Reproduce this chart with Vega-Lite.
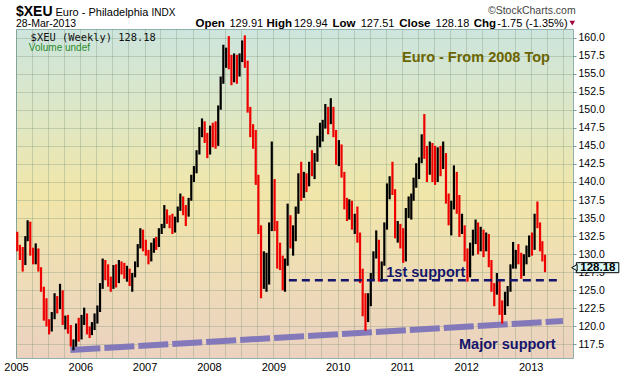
{
  "$schema": "https://vega.github.io/schema/vega-lite/v6.json",
  "width": 557,
  "height": 329,
  "autosize": {"type": "none"},
  "padding": {"left": 16, "top": 29, "right": 47, "bottom": 18},
  "background": "white",
  "view": {
    "stroke": "#8fb0ad",
    "strokeWidth": 1,
    "fill": {
      "gradient": "linear", "x1": 0, "y1": 0, "x2": 0, "y2": 1,
      "stops": [
        {"offset": 0, "color": "#cde5dd"},
        {"offset": 0.25, "color": "#dde7c6"},
        {"offset": 0.5, "color": "#f1e6a9"},
        {"offset": 0.78, "color": "#eedbb8"},
        {"offset": 1, "color": "#ebd2c0"}
      ]
    }
  },
  "config": {
    "font": "Liberation Sans",
    "axisX": {
      "title": null, "grid": true, "gridColor": "#6f8a70", "gridOpacity": 0.3,
      "domain": false, "ticks": false,
      "labelFont": "Liberation Sans", "labelFontSize": 11, "labelColor": "#000000",
      "labelPadding": 3, "labelFlush": false, "labelOverlap": false
    },
    "axisY": {
      "title": null, "grid": true, "gridColor": "#6f8a70", "gridOpacity": 0.3,
      "domain": false, "tickSize": 3, "tickColor": "#7a9a9a",
      "labelFont": "Liberation Sans", "labelFontSize": 10.5, "labelColor": "#000000",
      "labelPadding": 2, "labelOverlap": false, "labelFlush": false
    }
  },
  "layer": [
    {
      "data": {"values": [{}]},
      "mark": {"type": "rule", "strokeWidth": 6, "color": "#8379ba", "strokeDash": [30, 4]},
      "encoding": {
        "x": {"datum": {"year": 2005, "month": 11, "date": 6}, "type": "temporal"},
        "x2": {"datum": {"year": 2013, "month": 7, "date": 3}},
        "y": {"datum": 116.75, "type": "quantitative"},
        "y2": {"datum": 120.75}
      }
    },
    {
      "data": {"values": [
{"d":"2005-01-08","o":132.9,"h":133.1,"l":130.4,"c":130.8},
{"d":"2005-01-23","o":130.8,"h":131.3,"l":129.2,"c":130.5},
{"d":"2005-02-08","o":130.5,"h":131.0,"l":127.6,"c":128.8},
{"d":"2005-02-23","o":128.8,"h":132.5,"l":128.5,"c":132.2},
{"d":"2005-03-08","o":132.2,"h":134.7,"l":131.8,"c":134.0},
{"d":"2005-03-23","o":134.0,"h":134.5,"l":129.8,"c":130.0},
{"d":"2005-04-08","o":130.0,"h":130.9,"l":128.6,"c":129.1},
{"d":"2005-04-23","o":129.1,"h":131.5,"l":128.6,"c":130.5},
{"d":"2005-05-08","o":130.5,"h":130.8,"l":127.6,"c":127.9},
{"d":"2005-05-23","o":127.9,"h":128.2,"l":124.8,"c":125.2},
{"d":"2005-06-08","o":125.2,"h":125.5,"l":120.8,"c":122.5},
{"d":"2005-06-23","o":122.5,"h":123.9,"l":120.0,"c":120.6},
{"d":"2005-07-08","o":120.6,"h":121.0,"l":118.9,"c":119.6},
{"d":"2005-07-23","o":119.6,"h":122.0,"l":119.3,"c":121.6},
{"d":"2005-08-08","o":121.6,"h":124.6,"l":121.0,"c":123.9},
{"d":"2005-08-23","o":123.9,"h":124.2,"l":121.8,"c":122.6},
{"d":"2005-09-08","o":122.6,"h":125.9,"l":122.4,"c":124.8},
{"d":"2005-09-23","o":124.8,"h":125.0,"l":120.2,"c":120.6},
{"d":"2005-10-08","o":120.6,"h":121.5,"l":119.6,"c":120.8},
{"d":"2005-10-23","o":120.8,"h":121.6,"l":119.0,"c":119.8},
{"d":"2005-11-08","o":119.8,"h":120.2,"l":117.2,"c":117.6},
{"d":"2005-11-23","o":117.6,"h":118.2,"l":116.7,"c":117.9},
{"d":"2005-12-08","o":117.9,"h":120.4,"l":117.2,"c":119.6},
{"d":"2005-12-23","o":119.6,"h":121.2,"l":117.9,"c":118.4},
{"d":"2006-01-08","o":118.4,"h":121.6,"l":118.2,"c":121.2},
{"d":"2006-01-23","o":121.2,"h":122.6,"l":120.2,"c":121.6},
{"d":"2006-02-08","o":121.6,"h":121.8,"l":118.9,"c":119.3},
{"d":"2006-02-23","o":119.3,"h":120.0,"l":118.4,"c":119.0},
{"d":"2006-03-08","o":119.0,"h":120.6,"l":118.8,"c":120.2},
{"d":"2006-03-23","o":120.2,"h":121.8,"l":119.5,"c":120.9},
{"d":"2006-04-08","o":120.9,"h":122.9,"l":120.4,"c":122.5},
{"d":"2006-04-23","o":122.5,"h":126.0,"l":122.0,"c":125.6},
{"d":"2006-05-08","o":125.6,"h":129.4,"l":125.2,"c":128.8},
{"d":"2006-05-23","o":128.8,"h":129.2,"l":126.4,"c":127.6},
{"d":"2006-06-08","o":127.6,"h":128.6,"l":125.5,"c":126.2},
{"d":"2006-06-23","o":126.2,"h":126.9,"l":124.8,"c":125.4},
{"d":"2006-07-08","o":125.4,"h":128.5,"l":125.2,"c":128.0},
{"d":"2006-07-23","o":128.0,"h":128.6,"l":125.4,"c":126.2},
{"d":"2006-08-08","o":126.2,"h":129.2,"l":126.0,"c":128.6},
{"d":"2006-08-23","o":128.6,"h":129.0,"l":127.2,"c":127.8},
{"d":"2006-09-08","o":127.8,"h":128.8,"l":126.6,"c":127.0},
{"d":"2006-09-23","o":127.0,"h":128.4,"l":126.2,"c":127.8},
{"d":"2006-10-08","o":127.8,"h":128.0,"l":125.6,"c":125.9},
{"d":"2006-10-23","o":125.9,"h":127.4,"l":124.8,"c":127.1},
{"d":"2006-11-08","o":127.1,"h":129.0,"l":126.8,"c":128.4},
{"d":"2006-11-23","o":128.4,"h":131.4,"l":128.2,"c":131.0},
{"d":"2006-12-08","o":131.0,"h":133.6,"l":130.8,"c":133.0},
{"d":"2006-12-23","o":133.0,"h":133.4,"l":130.4,"c":131.2},
{"d":"2007-01-08","o":131.2,"h":132.0,"l":129.8,"c":130.0},
{"d":"2007-01-23","o":130.0,"h":130.6,"l":128.6,"c":129.4},
{"d":"2007-02-08","o":129.4,"h":131.6,"l":129.0,"c":130.6},
{"d":"2007-02-23","o":130.6,"h":132.2,"l":130.2,"c":131.8},
{"d":"2007-03-08","o":131.8,"h":132.4,"l":130.6,"c":131.2},
{"d":"2007-03-23","o":131.2,"h":133.6,"l":131.0,"c":133.4},
{"d":"2007-04-08","o":133.4,"h":134.2,"l":132.8,"c":133.9},
{"d":"2007-04-23","o":133.9,"h":136.8,"l":133.6,"c":136.0},
{"d":"2007-05-08","o":136.0,"h":136.2,"l":134.2,"c":135.0},
{"d":"2007-05-23","o":135.0,"h":135.4,"l":133.6,"c":134.2},
{"d":"2007-06-08","o":134.2,"h":135.6,"l":132.8,"c":133.4},
{"d":"2007-06-23","o":133.4,"h":135.2,"l":133.0,"c":134.9},
{"d":"2007-07-08","o":134.9,"h":136.6,"l":134.4,"c":136.4},
{"d":"2007-07-23","o":136.4,"h":138.4,"l":136.0,"c":137.8},
{"d":"2007-08-08","o":137.8,"h":138.0,"l":135.4,"c":136.2},
{"d":"2007-08-23","o":136.2,"h":136.8,"l":133.9,"c":135.4},
{"d":"2007-09-08","o":135.4,"h":137.8,"l":135.2,"c":137.6},
{"d":"2007-09-23","o":137.6,"h":141.0,"l":137.4,"c":140.8},
{"d":"2007-10-08","o":140.8,"h":142.2,"l":140.0,"c":141.6},
{"d":"2007-10-23","o":141.6,"h":144.4,"l":141.2,"c":144.0},
{"d":"2007-11-08","o":144.0,"h":147.6,"l":143.8,"c":146.6},
{"d":"2007-11-23","o":146.6,"h":148.8,"l":146.2,"c":148.0},
{"d":"2007-12-08","o":148.0,"h":148.4,"l":145.4,"c":146.2},
{"d":"2007-12-23","o":146.2,"h":146.8,"l":143.3,"c":144.0},
{"d":"2008-01-08","o":144.0,"h":147.8,"l":143.8,"c":147.4},
{"d":"2008-01-23","o":147.4,"h":148.2,"l":144.8,"c":146.6},
{"d":"2008-02-08","o":146.6,"h":148.4,"l":144.6,"c":145.2},
{"d":"2008-02-23","o":145.2,"h":150.6,"l":145.0,"c":150.2},
{"d":"2008-03-08","o":150.2,"h":154.6,"l":150.0,"c":154.0},
{"d":"2008-03-23","o":154.0,"h":159.0,"l":153.6,"c":156.4},
{"d":"2008-04-08","o":156.4,"h":158.6,"l":155.8,"c":158.0},
{"d":"2008-04-23","o":158.0,"h":160.2,"l":155.6,"c":156.0},
{"d":"2008-05-08","o":156.0,"h":157.6,"l":153.4,"c":154.2},
{"d":"2008-05-23","o":154.2,"h":157.8,"l":153.8,"c":157.0},
{"d":"2008-06-08","o":157.0,"h":157.6,"l":153.6,"c":155.0},
{"d":"2008-06-23","o":155.0,"h":157.8,"l":154.6,"c":157.6},
{"d":"2008-07-08","o":157.6,"h":159.6,"l":156.6,"c":159.0},
{"d":"2008-07-23","o":159.0,"h":160.3,"l":155.8,"c":156.4},
{"d":"2008-08-08","o":156.4,"h":156.8,"l":149.6,"c":150.0},
{"d":"2008-08-23","o":150.0,"h":150.4,"l":146.2,"c":147.2},
{"d":"2008-09-08","o":147.2,"h":148.0,"l":144.6,"c":145.2},
{"d":"2008-09-23","o":145.2,"h":147.2,"l":139.6,"c":140.6},
{"d":"2008-10-08","o":140.6,"h":141.0,"l":132.8,"c":133.6},
{"d":"2008-10-23","o":133.6,"h":134.0,"l":123.9,"c":127.2},
{"d":"2008-11-08","o":127.2,"h":130.4,"l":125.2,"c":127.6},
{"d":"2008-11-23","o":127.6,"h":130.2,"l":124.8,"c":129.4},
{"d":"2008-12-08","o":129.4,"h":134.4,"l":125.8,"c":133.6},
{"d":"2008-12-23","o":133.6,"h":145.6,"l":133.2,"c":139.8},
{"d":"2009-01-08","o":139.8,"h":140.4,"l":133.2,"c":134.0},
{"d":"2009-01-23","o":134.0,"h":134.6,"l":128.0,"c":129.6},
{"d":"2009-02-08","o":129.6,"h":131.6,"l":127.8,"c":128.6},
{"d":"2009-02-23","o":128.6,"h":129.8,"l":125.0,"c":126.6},
{"d":"2009-03-08","o":126.6,"h":129.4,"l":124.8,"c":128.8},
{"d":"2009-03-23","o":128.8,"h":137.0,"l":128.4,"c":134.6},
{"d":"2009-04-08","o":134.6,"h":135.4,"l":130.8,"c":132.2},
{"d":"2009-04-23","o":132.2,"h":134.0,"l":129.8,"c":133.2},
{"d":"2009-05-08","o":133.2,"h":136.6,"l":131.8,"c":136.2},
{"d":"2009-05-23","o":136.2,"h":141.2,"l":135.6,"c":140.6},
{"d":"2009-06-08","o":140.6,"h":142.8,"l":137.4,"c":139.4},
{"d":"2009-06-23","o":139.4,"h":141.4,"l":137.8,"c":140.6},
{"d":"2009-07-08","o":140.6,"h":141.2,"l":138.6,"c":139.8},
{"d":"2009-07-23","o":139.8,"h":142.8,"l":139.4,"c":142.2},
{"d":"2009-08-08","o":142.2,"h":144.4,"l":140.8,"c":141.6},
{"d":"2009-08-23","o":141.6,"h":144.0,"l":140.4,"c":143.4},
{"d":"2009-09-08","o":143.4,"h":146.4,"l":142.8,"c":146.0},
{"d":"2009-09-23","o":146.0,"h":148.2,"l":144.8,"c":146.4},
{"d":"2009-10-08","o":146.4,"h":148.6,"l":145.6,"c":148.0},
{"d":"2009-10-23","o":148.0,"h":150.8,"l":147.4,"c":149.8},
{"d":"2009-11-08","o":149.8,"h":150.4,"l":146.6,"c":148.4},
{"d":"2009-11-23","o":148.4,"h":151.6,"l":148.0,"c":150.0},
{"d":"2009-12-08","o":150.0,"h":150.4,"l":146.2,"c":146.8},
{"d":"2009-12-23","o":146.8,"h":147.2,"l":142.4,"c":143.2},
{"d":"2010-01-08","o":143.2,"h":145.8,"l":142.2,"c":144.6},
{"d":"2010-01-23","o":144.6,"h":145.2,"l":140.6,"c":141.0},
{"d":"2010-02-08","o":141.0,"h":141.4,"l":136.2,"c":136.6},
{"d":"2010-02-23","o":136.6,"h":137.8,"l":134.6,"c":135.6},
{"d":"2010-03-08","o":135.6,"h":137.6,"l":134.8,"c":136.4},
{"d":"2010-03-23","o":136.4,"h":137.4,"l":133.4,"c":134.4},
{"d":"2010-04-08","o":134.4,"h":135.6,"l":132.8,"c":135.2},
{"d":"2010-04-23","o":135.2,"h":136.6,"l":131.6,"c":132.2},
{"d":"2010-05-08","o":132.2,"h":133.0,"l":126.0,"c":127.6},
{"d":"2010-05-23","o":127.6,"h":128.0,"l":121.4,"c":123.8},
{"d":"2010-06-08","o":123.8,"h":124.6,"l":119.4,"c":121.8},
{"d":"2010-06-23","o":121.8,"h":124.6,"l":120.6,"c":123.8},
{"d":"2010-07-08","o":123.8,"h":127.4,"l":122.8,"c":126.8},
{"d":"2010-07-23","o":126.8,"h":130.4,"l":126.4,"c":129.8},
{"d":"2010-08-08","o":129.8,"h":133.3,"l":129.4,"c":131.8},
{"d":"2010-08-23","o":131.8,"h":132.0,"l":126.2,"c":126.8},
{"d":"2010-09-08","o":126.8,"h":129.0,"l":126.2,"c":128.6},
{"d":"2010-09-23","o":128.6,"h":134.4,"l":128.4,"c":133.8},
{"d":"2010-10-08","o":133.8,"h":139.8,"l":133.4,"c":139.4},
{"d":"2010-10-23","o":139.4,"h":140.8,"l":137.6,"c":139.6},
{"d":"2010-11-08","o":139.6,"h":142.8,"l":138.2,"c":138.6},
{"d":"2010-11-23","o":138.6,"h":139.0,"l":132.2,"c":132.8},
{"d":"2010-12-08","o":132.8,"h":134.6,"l":131.6,"c":133.8},
{"d":"2010-12-23","o":133.8,"h":134.2,"l":130.8,"c":133.4},
{"d":"2011-01-08","o":133.4,"h":133.6,"l":128.8,"c":129.2},
{"d":"2011-01-23","o":129.2,"h":136.4,"l":129.0,"c":135.8},
{"d":"2011-02-08","o":135.8,"h":138.0,"l":135.0,"c":136.4},
{"d":"2011-02-23","o":136.4,"h":138.4,"l":134.8,"c":137.8},
{"d":"2011-03-08","o":137.8,"h":140.6,"l":137.4,"c":139.8},
{"d":"2011-03-23","o":139.8,"h":142.6,"l":139.2,"c":141.4},
{"d":"2011-04-08","o":141.4,"h":143.4,"l":140.4,"c":143.0},
{"d":"2011-04-23","o":143.0,"h":146.6,"l":142.6,"c":146.0},
{"d":"2011-05-08","o":146.0,"h":149.4,"l":143.2,"c":143.8},
{"d":"2011-05-23","o":143.8,"h":145.0,"l":140.0,"c":141.4},
{"d":"2011-06-08","o":141.4,"h":145.6,"l":141.0,"c":144.2},
{"d":"2011-06-23","o":144.2,"h":145.4,"l":140.0,"c":142.6},
{"d":"2011-07-08","o":142.6,"h":145.0,"l":139.6,"c":140.2},
{"d":"2011-07-23","o":140.2,"h":144.8,"l":140.0,"c":144.0},
{"d":"2011-08-08","o":144.0,"h":145.0,"l":140.8,"c":142.4},
{"d":"2011-08-23","o":142.4,"h":145.6,"l":141.8,"c":143.6},
{"d":"2011-09-08","o":143.6,"h":144.0,"l":137.0,"c":137.6},
{"d":"2011-09-23","o":137.6,"h":138.4,"l":134.0,"c":135.0},
{"d":"2011-10-08","o":135.0,"h":137.4,"l":132.6,"c":136.6},
{"d":"2011-10-23","o":136.6,"h":142.3,"l":136.2,"c":141.0},
{"d":"2011-11-08","o":141.0,"h":141.4,"l":135.6,"c":137.6},
{"d":"2011-11-23","o":137.6,"h":138.2,"l":132.4,"c":133.2},
{"d":"2011-12-08","o":133.2,"h":135.6,"l":132.8,"c":133.8},
{"d":"2011-12-23","o":133.8,"h":134.0,"l":129.0,"c":130.4},
{"d":"2012-01-08","o":130.4,"h":130.8,"l":126.2,"c":127.2},
{"d":"2012-01-23","o":127.2,"h":131.6,"l":126.8,"c":130.8},
{"d":"2012-02-08","o":130.8,"h":133.4,"l":129.8,"c":132.6},
{"d":"2012-02-23","o":132.6,"h":134.8,"l":131.4,"c":134.0},
{"d":"2012-03-08","o":134.0,"h":134.4,"l":130.0,"c":131.2},
{"d":"2012-03-23","o":131.2,"h":133.8,"l":130.4,"c":133.2},
{"d":"2012-04-08","o":133.2,"h":133.4,"l":129.6,"c":130.8},
{"d":"2012-04-23","o":130.8,"h":133.0,"l":130.4,"c":132.4},
{"d":"2012-05-08","o":132.4,"h":132.8,"l":128.2,"c":128.8},
{"d":"2012-05-23","o":128.8,"h":129.2,"l":124.8,"c":125.4},
{"d":"2012-06-08","o":125.4,"h":126.0,"l":122.8,"c":125.0},
{"d":"2012-06-23","o":125.0,"h":127.4,"l":124.4,"c":125.6},
{"d":"2012-07-08","o":125.6,"h":126.4,"l":121.6,"c":122.6},
{"d":"2012-07-23","o":122.6,"h":123.6,"l":120.4,"c":121.8},
{"d":"2012-08-08","o":121.8,"h":124.8,"l":121.6,"c":123.6},
{"d":"2012-08-23","o":123.6,"h":125.6,"l":122.8,"c":125.0},
{"d":"2012-09-08","o":125.0,"h":128.6,"l":124.8,"c":128.2},
{"d":"2012-09-23","o":128.2,"h":131.7,"l":128.0,"c":129.2},
{"d":"2012-10-08","o":129.2,"h":130.6,"l":128.0,"c":129.6},
{"d":"2012-10-23","o":129.6,"h":131.4,"l":128.6,"c":129.4},
{"d":"2012-11-08","o":129.4,"h":130.2,"l":126.6,"c":127.4},
{"d":"2012-11-23","o":127.4,"h":130.0,"l":127.0,"c":129.6},
{"d":"2012-12-08","o":129.6,"h":131.2,"l":128.6,"c":129.8},
{"d":"2012-12-23","o":129.8,"h":132.6,"l":129.6,"c":131.8},
{"d":"2013-01-08","o":131.8,"h":133.0,"l":129.8,"c":130.8},
{"d":"2013-01-23","o":130.8,"h":135.6,"l":130.6,"c":135.0},
{"d":"2013-02-08","o":135.0,"h":137.3,"l":133.6,"c":134.0},
{"d":"2013-02-23","o":134.0,"h":134.4,"l":130.4,"c":131.6},
{"d":"2013-03-08","o":131.6,"h":131.8,"l":129.0,"c":130.0},
{"d":"2013-03-23","o":129.91,"h":129.94,"l":127.51,"c":128.18}
      ]},
      "mark": {"type": "rule", "strokeWidth": 2.2},
      "encoding": {
        "x": {
          "field": "d", "type": "temporal",
          "scale": {"domain": [{"year": 2005, "month": 1, "date": 1}, {"year": 2013, "month": 8, "date": 29}]},
          "axis": {
            "orient": "bottom",
            "tickCount": {"interval": "month", "step": 3},
            "labelExpr": "month(datum.value) == 0 ? timeFormat(datum.value, '%Y') : ''"
          }
        },
        "y": {
          "field": "l", "type": "quantitative",
          "scale": {"domain": [115.63, 161.18], "nice": false, "zero": false},
          "axis": {
            "orient": "right",
            "tickCount": 40,
            "values": [117.5, 120, 122.5, 125, 127.5, 130, 132.5, 135, 137.5, 140, 142.5, 145, 147.5, 150, 152.5, 155, 157.5, 160],
            "format": ".1f"
          }
        },
        "y2": {"field": "h"},
        "color": {"condition": {"test": "datum.c < datum.o", "value": "#ee0000"}, "value": "#000000"}
      }
    },
    {
      "data": {"values": [{}]},
      "mark": {"type": "rule", "strokeWidth": 2.5, "color": "#15156b", "strokeDash": [8, 5]},
      "encoding": {
        "x": {"datum": {"year": 2009, "month": 3, "date": 30}, "type": "temporal"},
        "x2": {"datum": {"year": 2013, "month": 6, "date": 21}},
        "y": {"datum": 126.4, "type": "quantitative"}
      }
    },
    {
      "data": {"values": [{"t": "Euro - From 2008 Top"}]},
      "mark": {"type": "text", "align": "left", "baseline": "alphabetic", "fontSize": 14.5, "fontWeight": "bold", "color": "#6b6400", "font": "Liberation Sans"},
      "encoding": {
        "x": {"datum": {"year": 2011, "month": 1, "date": 1}, "type": "temporal"},
        "y": {"datum": 156.61, "type": "quantitative"},
        "text": {"field": "t"}
      }
    },
    {
      "data": {"values": [{"t": "1st support"}]},
      "mark": {"type": "text", "align": "left", "baseline": "alphabetic", "fontSize": 14.5, "fontWeight": "bold", "color": "#15156b", "font": "Liberation Sans"},
      "encoding": {
        "x": {"datum": {"year": 2010, "month": 10, "date": 4}, "type": "temporal"},
        "y": {"datum": 126.85, "type": "quantitative"},
        "text": {"field": "t"}
      }
    },
    {
      "data": {"values": [{"t": "Major support"}]},
      "mark": {"type": "text", "align": "left", "baseline": "alphabetic", "fontSize": 14.5, "fontWeight": "bold", "color": "#15156b", "font": "Liberation Sans"},
      "encoding": {
        "x": {"datum": {"year": 2011, "month": 11, "date": 21}, "type": "temporal"},
        "y": {"datum": 116.81, "type": "quantitative"},
        "text": {"field": "t"}
      }
    },
    {
      "data": {"values": [{"t": "$XEU (Weekly) 128.18"}]},
      "mark": {"type": "text", "align": "left", "baseline": "alphabetic", "fontSize": 10.4, "color": "#111111", "font": "DejaVu Sans Mono"},
      "encoding": {
        "x": {"datum": {"year": 2005, "month": 3, "date": 25}, "type": "temporal"},
        "y": {"datum": 159.52, "type": "quantitative"},
        "text": {"field": "t"}
      }
    },
    {
      "data": {"values": [{"t": "Volume undef"}]},
      "mark": {"type": "text", "align": "left", "baseline": "alphabetic", "fontSize": 10, "color": "#2a8a2a", "font": "Liberation Sans"},
      "encoding": {
        "x": {"datum": {"year": 2005, "month": 3, "date": 15}, "type": "temporal"},
        "y": {"datum": 158.2, "type": "quantitative"},
        "text": {"field": "t"}
      }
    },
    {
      "data": {"values": [{"t": "$XEU"}]},
      "mark": {"type": "text", "align": "left", "baseline": "alphabetic", "fontSize": 14, "fontWeight": "bold", "color": "#000000", "font": "Liberation Sans"},
      "encoding": {
        "x": {"datum": {"year": 2005, "month": 1, "date": 1}, "type": "temporal"},
        "y": {"datum": 162.95, "type": "quantitative"},
        "text": {"field": "t"}
      }
    },
    {
      "data": {"values": [{"t": "Euro - Philadelphia"}]},
      "mark": {"type": "text", "align": "left", "baseline": "alphabetic", "fontSize": 11, "color": "#000000", "font": "Liberation Sans"},
      "encoding": {
        "x": {"datum": {"year": 2005, "month": 8, "date": 13}, "type": "temporal"},
        "y": {"datum": 162.95, "type": "quantitative"},
        "text": {"field": "t"}
      }
    },
    {
      "data": {"values": [{"t": "INDX"}]},
      "mark": {"type": "text", "align": "left", "baseline": "alphabetic", "fontSize": 10, "color": "#000000", "font": "Liberation Sans"},
      "encoding": {
        "x": {"datum": {"year": 2007, "month": 2, "date": 9}, "type": "temporal"},
        "y": {"datum": 162.95, "type": "quantitative"},
        "text": {"field": "t"}
      }
    },
    {
      "data": {"values": [{"t": "©StockCharts.com"}]},
      "mark": {"type": "text", "align": "right", "baseline": "alphabetic", "fontSize": 10.5, "color": "#444444", "font": "Liberation Sans"},
      "encoding": {
        "x": {"datum": {"year": 2013, "month": 9, "date": 13}, "type": "temporal"},
        "y": {"datum": 163.25, "type": "quantitative"},
        "text": {"field": "t"}
      }
    },
    {
      "data": {"values": [{"t": "28-Mar-2013"}]},
      "mark": {"type": "text", "align": "left", "baseline": "alphabetic", "fontSize": 10.5, "color": "#000000", "font": "Liberation Sans"},
      "encoding": {
        "x": {"datum": {"year": 2005, "month": 1, "date": 1}, "type": "temporal"},
        "y": {"datum": 161.45, "type": "quantitative"},
        "text": {"field": "t"}
      }
    },
    {
      "data": {"values": [{"t": "Open"}]},
      "mark": {"type": "text", "align": "left", "baseline": "alphabetic", "fontSize": 11.5, "fontWeight": "bold", "color": "#000000", "font": "Liberation Sans"},
      "encoding": {"x": {"datum": {"year": 2007, "month": 10, "date": 17}, "type": "temporal"}, "y": {"datum": 161.45, "type": "quantitative"}, "text": {"field": "t"}}
    },
    {
      "data": {"values": [{"t": "129.91"}]},
      "mark": {"type": "text", "align": "left", "baseline": "alphabetic", "fontSize": 11, "color": "#000000", "font": "Liberation Sans"},
      "encoding": {"x": {"datum": {"year": 2008, "month": 4, "date": 27}, "type": "temporal"}, "y": {"datum": 161.45, "type": "quantitative"}, "text": {"field": "t"}}
    },
    {
      "data": {"values": [{"t": "High"}]},
      "mark": {"type": "text", "align": "left", "baseline": "alphabetic", "fontSize": 11.5, "fontWeight": "bold", "color": "#000000", "font": "Liberation Sans"},
      "encoding": {"x": {"datum": {"year": 2008, "month": 11, "date": 23}, "type": "temporal"}, "y": {"datum": 161.45, "type": "quantitative"}, "text": {"field": "t"}}
    },
    {
      "data": {"values": [{"t": "129.94"}]},
      "mark": {"type": "text", "align": "left", "baseline": "alphabetic", "fontSize": 11, "color": "#000000", "font": "Liberation Sans"},
      "encoding": {"x": {"datum": {"year": 2009, "month": 4, "date": 28}, "type": "temporal"}, "y": {"datum": 161.45, "type": "quantitative"}, "text": {"field": "t"}}
    },
    {
      "data": {"values": [{"t": "Low"}]},
      "mark": {"type": "text", "align": "left", "baseline": "alphabetic", "fontSize": 11.5, "fontWeight": "bold", "color": "#000000", "font": "Liberation Sans"},
      "encoding": {"x": {"datum": {"year": 2009, "month": 12, "date": 3}, "type": "temporal"}, "y": {"datum": 161.45, "type": "quantitative"}, "text": {"field": "t"}}
    },
    {
      "data": {"values": [{"t": "127.51"}]},
      "mark": {"type": "text", "align": "left", "baseline": "alphabetic", "fontSize": 11, "color": "#000000", "font": "Liberation Sans"},
      "encoding": {"x": {"datum": {"year": 2010, "month": 5, "date": 12}, "type": "temporal"}, "y": {"datum": 161.45, "type": "quantitative"}, "text": {"field": "t"}}
    },
    {
      "data": {"values": [{"t": "Close"}]},
      "mark": {"type": "text", "align": "left", "baseline": "alphabetic", "fontSize": 11.5, "fontWeight": "bold", "color": "#000000", "font": "Liberation Sans"},
      "encoding": {"x": {"datum": {"year": 2010, "month": 12, "date": 16}, "type": "temporal"}, "y": {"datum": 161.45, "type": "quantitative"}, "text": {"field": "t"}}
    },
    {
      "data": {"values": [{"t": "128.18"}]},
      "mark": {"type": "text", "align": "left", "baseline": "alphabetic", "fontSize": 11, "color": "#000000", "font": "Liberation Sans"},
      "encoding": {"x": {"datum": {"year": 2011, "month": 7, "date": 11}, "type": "temporal"}, "y": {"datum": 161.45, "type": "quantitative"}, "text": {"field": "t"}}
    },
    {
      "data": {"values": [{"t": "Chg"}]},
      "mark": {"type": "text", "align": "left", "baseline": "alphabetic", "fontSize": 11.5, "fontWeight": "bold", "color": "#000000", "font": "Liberation Sans"},
      "encoding": {"x": {"datum": {"year": 2012, "month": 2, "date": 12}, "type": "temporal"}, "y": {"datum": 161.45, "type": "quantitative"}, "text": {"field": "t"}}
    },
    {
      "data": {"values": [{"t": "-1.75 (-1.35%)"}]},
      "mark": {"type": "text", "align": "left", "baseline": "alphabetic", "fontSize": 11, "color": "#000000", "font": "Liberation Sans"},
      "encoding": {"x": {"datum": {"year": 2012, "month": 6, "date": 25}, "type": "temporal"}, "y": {"datum": 161.45, "type": "quantitative"}, "text": {"field": "t"}}
    },
    {
      "data": {"values": [{}]},
      "mark": {"type": "point", "shape": "triangle-down", "size": 30, "filled": true, "color": "#a0003c", "opacity": 1},
      "encoding": {"x": {"datum": {"year": 2013, "month": 8, "date": 25}, "type": "temporal"}, "y": {"datum": 162.0, "type": "quantitative"}}
    },
    {
      "data": {"values": [{}]},
      "mark": {"type": "rect", "fill": "#d8fafa", "stroke": "#000000", "strokeWidth": 1},
      "encoding": {
        "x": {"datum": {"year": 2013, "month": 9, "date": 17}, "type": "temporal"},
        "x2": {"datum": {"year": 2014, "month": 5, "date": 16}},
        "y": {"datum": 128.83, "type": "quantitative"},
        "y2": {"datum": 127.44}
      }
    },
    {
      "data": {"values": [{}]},
      "mark": {"type": "point", "shape": "triangle-left", "size": 40, "filled": true, "fill": "#d8fafa", "stroke": "#000000", "strokeWidth": 1, "opacity": 1},
      "encoding": {"x": {"datum": {"year": 2013, "month": 9, "date": 6}, "type": "temporal"}, "y": {"datum": 128.14, "type": "quantitative"}}
    },
    {
      "data": {"values": [{"t": "128.18"}]},
      "mark": {"type": "text", "align": "center", "baseline": "middle", "fontSize": 11.5, "fontWeight": "bold", "color": "#000000", "font": "Liberation Sans"},
      "encoding": {"x": {"datum": {"year": 2014, "month": 1, "date": 17}, "type": "temporal"}, "y": {"datum": 128.14, "type": "quantitative"}, "text": {"field": "t"}}
    }
  ]
}
